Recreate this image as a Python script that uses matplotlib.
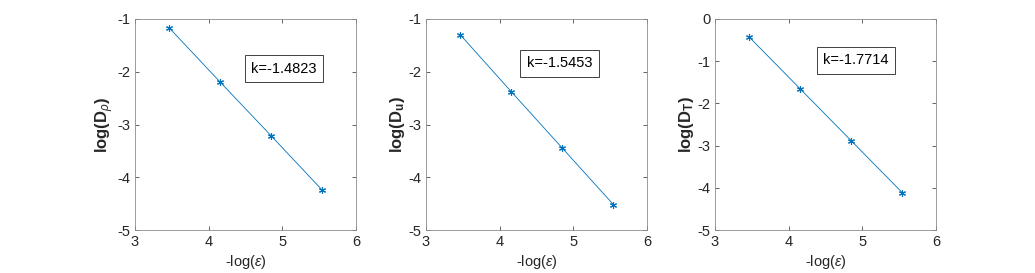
import matplotlib
matplotlib.use("Agg")
import matplotlib.pyplot as plt
import numpy as np

plt.rcParams['font.family'] = ['Liberation Sans', 'DejaVu Sans']
plt.rcParams['mathtext.fontset'] = 'custom'
plt.rcParams['mathtext.rm'] = 'Liberation Sans'
plt.rcParams['mathtext.it'] = 'Liberation Sans:italic'
plt.rcParams['mathtext.bf'] = 'Liberation Sans:bold'
plt.rcParams['axes.unicode_minus'] = False

x_vals = [3.4657, 4.1589, 4.8520, 5.5452]
y_rho = [-1.17, -2.20, -3.22, -4.25]
y_u = [-1.30, -2.38, -3.45, -4.52]
y_T = [-0.43, -1.66, -2.89, -4.12]
series = [y_rho, y_u, y_T]
ylabels = [r'log(D$_{\rho}$)', r'log(D$_{\mathbf{u}}$)', r'log(D$_{\mathbf{T}}$)']
slopes = ['k=-1.4823', 'k=-1.5453', 'k=-1.7714']
ylims = [(-5, -1), (-5, -1), (-5, 0)]
text_pos = [(4.58, -1.94), (4.37, -1.84), (4.47, -0.98)]

W, H = 1035, 273
fig = plt.figure(figsize=(W / 100, H / 100), dpi=100)
lefts = [135, 426, 715]
aw, ah = 221, 211
top = 19
color = '#0072BD'
axcol = '#262626'

for i in range(3):
    ax = fig.add_axes([lefts[i] / W, 1 - (top + ah) / H, aw / W, ah / H])
    ax.plot(x_vals, series[i], '-', color=color, lw=0.6, marker=(6, 2, 0),
            markersize=5, markeredgewidth=0.8)
    ax.set_xlim(3, 6)
    ax.set_ylim(*ylims[i])
    ax.set_xticks([3, 4, 5, 6])
    ax.set_yticks(np.arange(ylims[i][0], ylims[i][1] + 0.5, 1))
    ax.tick_params(direction='in', top=True, right=True, labelsize=10.5,
                   colors=axcol, length=3, width=0.5)
    for s in ax.spines.values():
        s.set_color('#8c8c8c')
        s.set_linewidth(0.6)
    ax.set_xlabel(r'-log($\epsilon$)', fontsize=10.5, color=axcol, labelpad=3)
    ax.set_ylabel(ylabels[i], fontsize=12, fontweight='bold', color=axcol, labelpad=1)
    ax.text(text_pos[i][0], text_pos[i][1], slopes[i], fontsize=10.5,
            ha='left', va='center', color='black',
            bbox=dict(boxstyle='square,pad=0.45', fc='white', ec='#404040', lw=0.7))

fig.savefig('out.png', dpi=100)
